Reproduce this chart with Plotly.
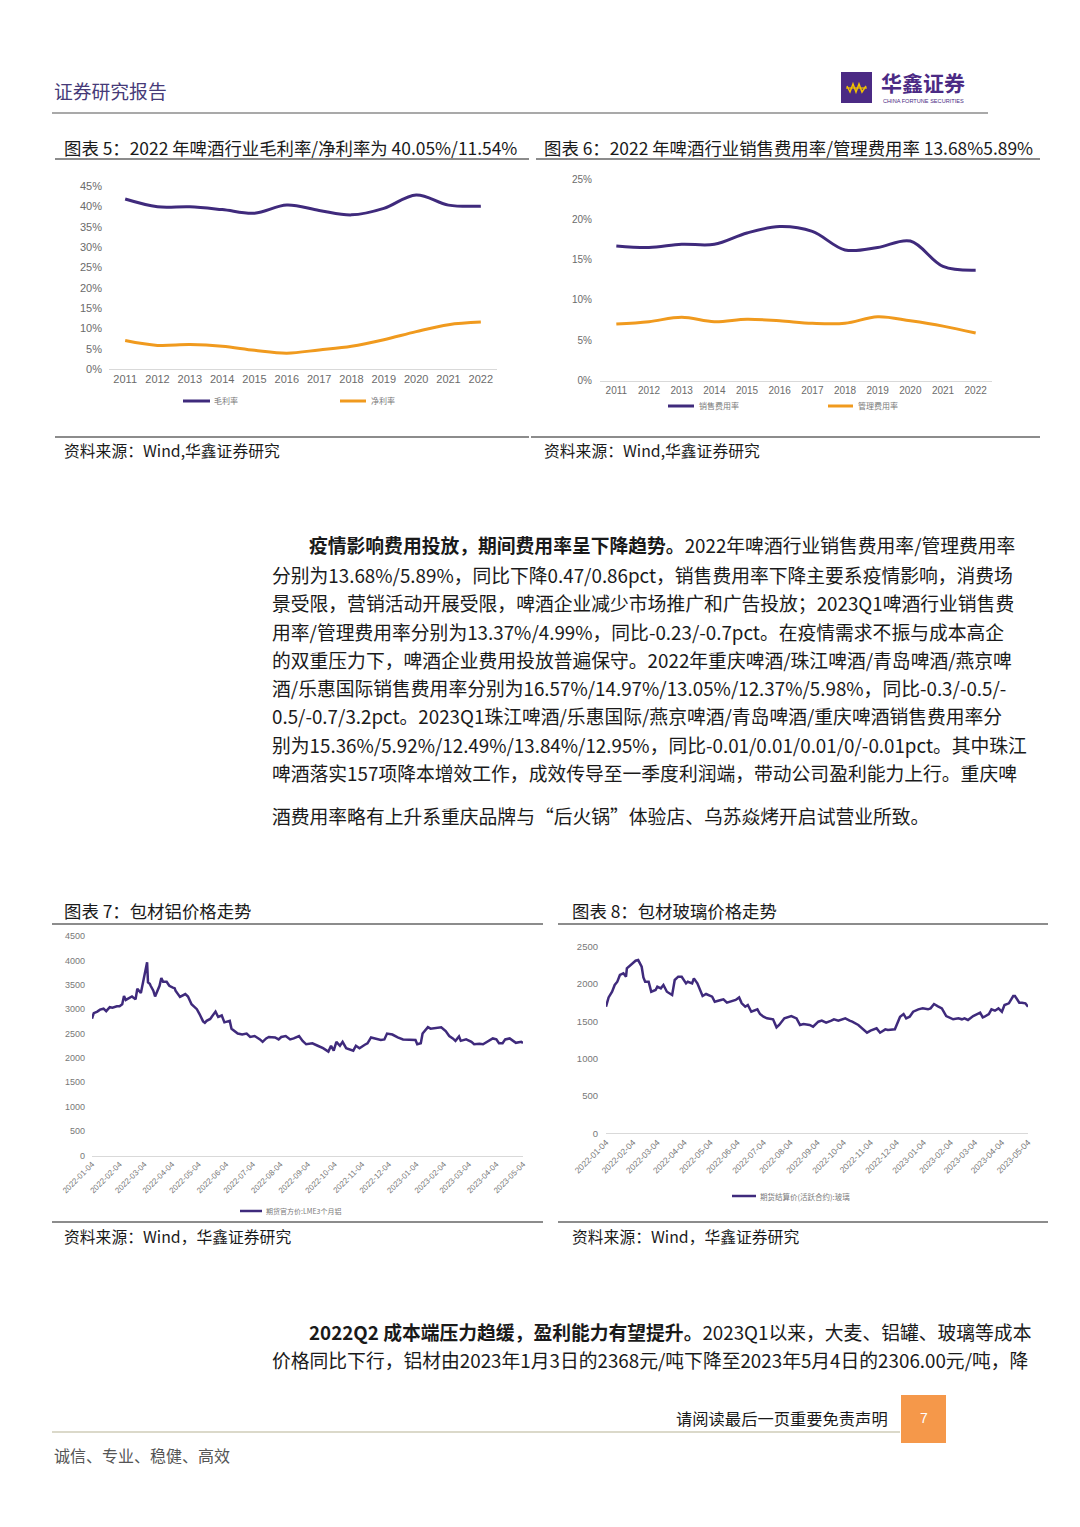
import plotly.graph_objects as go

W, H = 1080, 1527
OFF = 8  # the page body margin shifts the figure by 8px right and down

# ---------------- DATA ----------------
years = ['2011', '2012', '2013', '2014', '2015', '2016', '2017', '2018', '2019', '2020', '2021', '2022']
gross_margin = [41.8, 39.9, 39.9, 39.2, 38.3, 40.3, 39.0, 37.9, 39.5, 42.8, 40.3, 40.05]
net_margin = [7.0, 5.8, 6.0, 5.6, 4.6, 3.9, 4.7, 5.6, 7.2, 9.2, 10.9, 11.54]
selling_rate = [16.7, 16.5, 16.9, 16.9, 18.3, 19.1, 18.5, 16.2, 16.5, 17.3, 14.15, 13.68]
admin_rate = [7.0, 7.3, 7.85, 7.3, 7.6, 7.4, 7.1, 7.1, 7.9, 7.4, 6.75, 5.89]

alu_dates = ['2022-01-04', '2022-01-06', '2022-01-10', '2022-01-13', '2022-01-17', '2022-01-20', '2022-01-24',
             '2022-01-27', '2022-02-01', '2022-02-04', '2022-02-07', '2022-02-09', '2022-02-11', '2022-02-15',
             '2022-02-18', '2022-02-22', '2022-02-24', '2022-02-28', '2022-03-02', '2022-03-04', '2022-03-07',
             '2022-03-08', '2022-03-10', '2022-03-11', '2022-03-14', '2022-03-16', '2022-03-18', '2022-03-21',
             '2022-03-23', '2022-03-25', '2022-03-29', '2022-04-01', '2022-04-05', '2022-04-07', '2022-04-08',
             '2022-04-13', '2022-04-19', '2022-04-22', '2022-04-26', '2022-05-02', '2022-05-05', '2022-05-09',
             '2022-05-11', '2022-05-13', '2022-05-17', '2022-05-23', '2022-05-26', '2022-05-30', '2022-06-02',
             '2022-06-08', '2022-06-10', '2022-06-17', '2022-06-22', '2022-06-27', '2022-07-01', '2022-07-06',
             '2022-07-12', '2022-07-15', '2022-07-19', '2022-07-22', '2022-07-29', '2022-08-02', '2022-08-05',
             '2022-08-10', '2022-08-15', '2022-08-19', '2022-08-25', '2022-08-29', '2022-09-02', '2022-09-09',
             '2022-09-15', '2022-09-21', '2022-09-27', '2022-09-30', '2022-10-03', '2022-10-06', '2022-10-10',
             '2022-10-13', '2022-10-17', '2022-10-21', '2022-10-25', '2022-10-28', '2022-11-01', '2022-11-07',
             '2022-11-10', '2022-11-14', '2022-11-18', '2022-11-25', '2022-11-29', '2022-12-02', '2022-12-08',
             '2022-12-14', '2022-12-20', '2022-12-28', '2023-01-03', '2023-01-05', '2023-01-09', '2023-01-11',
             '2023-01-17', '2023-01-20', '2023-01-26', '2023-02-01', '2023-02-06', '2023-02-10', '2023-02-14',
             '2023-02-17', '2023-02-21', '2023-02-23', '2023-03-01', '2023-03-07', '2023-03-10', '2023-03-16',
             '2023-03-20', '2023-03-24', '2023-03-31', '2023-04-04', '2023-04-07', '2023-04-11', '2023-04-14',
             '2023-04-19', '2023-04-24', '2023-04-26', '2023-05-02', '2023-05-04']
alu_values = [2806, 2920, 2950, 2990, 3010, 2960, 3040,
              3030, 3060, 3060, 3100, 3270, 3190, 3230,
              3260, 3200, 3420, 3330, 3500, 3700, 3960,
              3550, 3520, 3480, 3380, 3260, 3340, 3480,
              3640, 3560, 3560, 3480, 3440, 3430, 3380,
              3250, 3310, 3260, 3100, 3000, 2900, 2750,
              2720, 2760, 2800, 2950, 2840, 2870, 2730,
              2760, 2600, 2500, 2480, 2500, 2430, 2450,
              2380, 2330, 2400, 2430, 2420, 2380, 2430,
              2450, 2380, 2400, 2450, 2350, 2280, 2300,
              2250, 2200, 2130, 2250, 2150, 2330, 2250,
              2330, 2200, 2180, 2150, 2250, 2200, 2270,
              2300, 2420, 2400, 2370, 2380, 2500, 2480,
              2420, 2380, 2380, 2368, 2280, 2300, 2500,
              2630, 2600, 2620, 2630, 2550, 2450, 2400,
              2350, 2440, 2350, 2380, 2330, 2280, 2290,
              2280, 2320, 2400, 2380, 2300, 2300, 2380,
              2400, 2340, 2310, 2330, 2306]

glass_dates = ['2022-01-04', '2022-01-07', '2022-01-11', '2022-01-14', '2022-01-17', '2022-01-20', '2022-01-24',
               '2022-01-27', '2022-01-28', '2022-02-03', '2022-02-07', '2022-02-10', '2022-02-14', '2022-02-16',
               '2022-02-18', '2022-02-22', '2022-02-25', '2022-03-02', '2022-03-04', '2022-03-08', '2022-03-11',
               '2022-03-15', '2022-03-21', '2022-03-24', '2022-03-28', '2022-04-01', '2022-04-06', '2022-04-08',
               '2022-04-13', '2022-04-15', '2022-04-19', '2022-04-25', '2022-04-29', '2022-05-06', '2022-05-09',
               '2022-05-16', '2022-05-19', '2022-05-23', '2022-05-27', '2022-06-02', '2022-06-06', '2022-06-09',
               '2022-06-13', '2022-06-16', '2022-06-20', '2022-06-27', '2022-06-30', '2022-07-04', '2022-07-08',
               '2022-07-15', '2022-07-19', '2022-07-22', '2022-07-28', '2022-08-05', '2022-08-11', '2022-08-15',
               '2022-08-19', '2022-08-26', '2022-08-30', '2022-09-05', '2022-09-09', '2022-09-14', '2022-09-20',
               '2022-09-23', '2022-09-28', '2022-10-06', '2022-10-11', '2022-10-14', '2022-10-21', '2022-10-25',
               '2022-10-31', '2022-11-04', '2022-11-11', '2022-11-15', '2022-11-21', '2022-11-24', '2022-11-28',
               '2022-12-02', '2022-12-08', '2022-12-12', '2022-12-15', '2022-12-19', '2022-12-23', '2022-12-29',
               '2023-01-03', '2023-01-09', '2023-01-12', '2023-01-16', '2023-01-20', '2023-01-25', '2023-01-30',
               '2023-02-02', '2023-02-07', '2023-02-13', '2023-02-17', '2023-02-20', '2023-02-24', '2023-03-02',
               '2023-03-06', '2023-03-10', '2023-03-13', '2023-03-15', '2023-03-20', '2023-03-23', '2023-03-27',
               '2023-03-31', '2023-04-04', '2023-04-07', '2023-04-12', '2023-04-17', '2023-04-19', '2023-04-24',
               '2023-04-27', '2023-05-01', '2023-05-04']
glass_values = [1696, 1821, 1897, 1987, 2031, 2121, 2143,
                2098, 2210, 2268, 2312, 2321, 2232, 2089,
                2031, 2031, 1897, 1920, 1964, 1942, 1987,
                1897, 1853, 2054, 2098, 2098, 2009, 2031,
                2009, 2076, 2009, 1839, 1866, 1830, 1763,
                1786, 1795, 1750, 1763, 1786, 1821, 1741,
                1696, 1719, 1629, 1661, 1598, 1562, 1540,
                1527, 1420, 1451, 1540, 1571, 1540, 1451,
                1464, 1451, 1428, 1495, 1509, 1482, 1509,
                1527, 1509, 1540, 1509, 1495, 1451, 1406,
                1348, 1375, 1406, 1348, 1393, 1384, 1393,
                1393, 1562, 1598, 1540, 1562, 1629, 1661,
                1674, 1661, 1674, 1732, 1705, 1674, 1571,
                1553, 1527, 1540, 1527, 1540, 1518, 1571,
                1598, 1616, 1553, 1562, 1598, 1661, 1643,
                1674, 1629, 1719, 1741, 1839, 1839, 1750,
                1750, 1741, 1696]

date_ticks = ['2022-01-04', '2022-02-04', '2022-03-04', '2022-04-04', '2022-05-04', '2022-06-04',
              '2022-07-04', '2022-08-04', '2022-09-04', '2022-10-04', '2022-11-04', '2022-12-04',
              '2023-01-04', '2023-02-04', '2023-03-04', '2023-04-04', '2023-05-04']

# ---------------- STYLE ----------------
PURPLE = '#3f2a7c'
ORANGE = '#f09a1e'
CJK = 'Noto Sans CJK SC'
LAT = 'Liberation Sans, Arial, sans-serif'
TICK_GRAY = '#6b6b6b'


def fx(x):
    return (x - OFF) / W


def fy(y):
    return 1 - (y - OFF) / H


fig = go.Figure()

# Chart 5
fig.add_trace(go.Scatter(x=years, y=gross_margin, mode='lines', line=dict(color=PURPLE, width=3, shape='spline', smoothing=1),
                         xaxis='x', yaxis='y', showlegend=False))
fig.add_trace(go.Scatter(x=years, y=net_margin, mode='lines', line=dict(color=ORANGE, width=3, shape='spline', smoothing=1),
                         xaxis='x', yaxis='y', showlegend=False))
# Chart 6
fig.add_trace(go.Scatter(x=years, y=selling_rate, mode='lines', line=dict(color=PURPLE, width=3, shape='spline', smoothing=1),
                         xaxis='x2', yaxis='y2', showlegend=False))
fig.add_trace(go.Scatter(x=years, y=admin_rate, mode='lines', line=dict(color=ORANGE, width=3, shape='spline', smoothing=1),
                         xaxis='x2', yaxis='y2', showlegend=False))
# Chart 7
fig.add_trace(go.Scatter(x=alu_dates, y=alu_values, mode='lines', line=dict(color=PURPLE, width=2.5),
                         xaxis='x3', yaxis='y3', showlegend=False))
# Chart 8
fig.add_trace(go.Scatter(x=glass_dates, y=glass_values, mode='lines', line=dict(color=PURPLE, width=2.5),
                         xaxis='x4', yaxis='y4', showlegend=False))

axis_common = dict(showgrid=False, zeroline=False, fixedrange=True, automargin=False)

layout = dict(
    width=W, height=H, autosize=False,
    margin=dict(l=0, r=0, t=0, b=0, pad=0, autoexpand=False),
    paper_bgcolor='white', plot_bgcolor='white',
    showlegend=False,
    # chart 5
    xaxis=dict(domain=[fx(109), fx(497)], anchor='y', type='category', range=[-0.5, 11.5],
               showline=True, linecolor='#d9d9d9', linewidth=1, ticks='',
               tickfont=dict(family=LAT, size=11, color=TICK_GRAY), **axis_common),
    yaxis=dict(domain=[fy(369), fy(186)], anchor='x', range=[0, 45], dtick=5, ticksuffix='%',
               showline=False, ticks='', ticklabelstandoff=6,
               tickfont=dict(family=LAT, size=11, color=TICK_GRAY), **axis_common),
    # chart 6
    xaxis2=dict(domain=[fx(600), fx(992)], anchor='y2', type='category', range=[-0.5, 11.5],
                showline=True, linecolor='#d9d9d9', linewidth=1, ticks='',
                tickfont=dict(family=LAT, size=10, color=TICK_GRAY), **axis_common),
    yaxis2=dict(domain=[fy(380.5), fy(179)], anchor='x2', range=[0, 25], dtick=5, ticksuffix='%',
                showline=False, ticks='', ticklabelstandoff=7,
                tickfont=dict(family=LAT, size=10, color=TICK_GRAY), **axis_common),
    # chart 7
    xaxis3=dict(domain=[fx(92), fx(523)], anchor='y3', type='date', range=['2022-01-04', '2023-05-04'],
                tickvals=date_ticks, ticktext=date_ticks, tickangle=-45,
                showline=True, linecolor='#d9d9d9', linewidth=1, ticks='',
                tickfont=dict(family=LAT, size=8, color='#777777'), **axis_common),
    yaxis3=dict(domain=[fy(1155.5), fy(936)], anchor='x3', range=[0, 4500], dtick=500,
                showline=False, ticks='', ticklabelstandoff=6,
                tickfont=dict(family=LAT, size=9, color='#777777'), **axis_common),
    # chart 8
    xaxis4=dict(domain=[fx(606), fx(1028)], anchor='y4', type='date', range=['2022-01-04', '2023-05-04'],
                tickvals=date_ticks, ticktext=date_ticks, tickangle=-45,
                showline=True, linecolor='#d9d9d9', linewidth=1, ticks='',
                tickfont=dict(family=LAT, size=8.5, color='#777777'), **axis_common),
    yaxis4=dict(domain=[fy(1133.3), fy(946.7)], anchor='x4', range=[0, 2500], dtick=500,
                showline=False, ticks='', ticklabelstandoff=7,
                tickfont=dict(family=LAT, size=9.5, color='#777777'), **axis_common),
)
fig.update_layout(**layout)

shapes = []
annotations = []


def hline(x0, x1, y, color, width):
    shapes.append(dict(type='line', xref='paper', yref='paper', x0=fx(x0), x1=fx(x1), y0=fy(y), y1=fy(y),
                       line=dict(color=color, width=width)))


def text(x, y, s, size, color='#1a1a1a', family=CJK, anchor='left'):
    annotations.append(dict(xref='paper', yref='paper', x=fx(x), y=fy(y), text=s, showarrow=False,
                            xanchor=anchor, yanchor='middle', font=dict(family=family, size=size, color=color)))


# Header
text(52, 90, '证券研究报告', 18.8, color='#463a78')
shapes.append(dict(type='rect', xref='paper', yref='paper', x0=fx(841), x1=fx(872), y0=fy(103), y1=fy(72),
                   fillcolor='#4b2a84', line=dict(width=0)))
shapes.append(dict(type='path', xref='paper', yref='paper',
                   path='M {} {} L {} {} L {} {} L {} {} L {} {} L {} {} L {} {}'.format(
                       fx(847), fy(86), fx(850), fy(92), fx(853), fy(84), fx(856), fy(92), fx(859), fy(84),
                       fx(862), fy(92), fx(866), fy(86)),
                   line=dict(color='#f2c200', width=1.5)))
hline(846, 867, 88, '#f2c200', 1.2)
text(879, 82.5, '<b>华鑫证券</b>', 21, color='#4b2a84')
text(881, 100.5, 'CHINA FORTUNE SECURITIES', 5.6, color='#4b2a84', family=LAT)
hline(52, 988, 113, '#8c8c8c', 1.5)

# Chart 5 / 6 titles and frames
TITLE = 17.4
SRC = 15.8
text(62, 147, '图表 5：2022 年啤酒行业毛利率/净利率为 40.05%/11.54%', TITLE)
text(542, 147, '图表 6：2022 年啤酒行业销售费用率/管理费用率 13.68%5.89%', TITLE)
hline(55, 529, 159, '#8c8c8c', 2)
hline(536, 1040, 159, '#8c8c8c', 2)
hline(55, 529, 437, '#8c8c8c', 2)
hline(531, 1040, 437, '#8c8c8c', 2)
text(62, 450, '资料来源：Wind,华鑫证券研究', SRC)
text(542, 450, '资料来源：Wind,华鑫证券研究', SRC)

# Legends chart 5 / 6
hline(183, 210, 401, PURPLE, 3)
text(212, 401, '毛利率', 8, color='#7a7a7a')
hline(340, 366, 401, ORANGE, 3)
text(369, 401, '净利率', 8, color='#7a7a7a')
hline(668, 694, 406, PURPLE, 3)
text(697, 406, '销售费用率', 8, color='#7a7a7a')
hline(828, 853, 406, ORANGE, 3)
text(856, 406, '管理费用率', 8, color='#7a7a7a')

# Paragraph 1
BODY = 18.8
para1 = [
    (307, 545, '<b>疫情影响费用投放，期间费用率呈下降趋势。</b>2022年啤酒行业销售费用率/管理费用率'),
    (270, 574, '分别为13.68%/5.89%，同比下降0.47/0.86pct，销售费用率下降主要系疫情影响，消费场'),
    (270, 602, '景受限，营销活动开展受限，啤酒企业减少市场推广和广告投放；2023Q1啤酒行业销售费'),
    (270, 631, '用率/管理费用率分别为13.37%/4.99%，同比-0.23/-0.7pct。在疫情需求不振与成本高企'),
    (270, 659, '的双重压力下，啤酒企业费用投放普遍保守。2022年重庆啤酒/珠江啤酒/青岛啤酒/燕京啤'),
    (270, 687, '酒/乐惠国际销售费用率分别为16.57%/14.97%/13.05%/12.37%/5.98%，同比-0.3/-0.5/-'),
    (270, 715, '0.5/-0.7/3.2pct。2023Q1珠江啤酒/乐惠国际/燕京啤酒/青岛啤酒/重庆啤酒销售费用率分'),
    (270, 744, '别为15.36%/5.92%/12.49%/13.84%/12.95%，同比-0.01/0.01/0.01/0/-0.01pct。其中珠江'),
    (270, 772, '啤酒落实157项降本增效工作，成效传导至一季度利润端，带动公司盈利能力上行。重庆啤'),
    (270, 815, '酒费用率略有上升系重庆品牌与“后火锅”体验店、乌苏焱烤开启试营业所致。'),
]
for x, y, s in para1:
    text(x, y, s, BODY)

# Chart 7 / 8 titles and frames
text(62, 910, '图表 7：包材铝价格走势', TITLE)
text(570, 910, '图表 8：包材玻璃价格走势', TITLE)
hline(52, 543, 924, '#8c8c8c', 2)
hline(558, 1048, 924, '#8c8c8c', 2)
hline(52, 543, 1222, '#8c8c8c', 2)
hline(558, 1048, 1222, '#8c8c8c', 2)
text(62, 1236, '资料来源：Wind，华鑫证券研究', SRC)
text(570, 1236, '资料来源：Wind，华鑫证券研究', SRC)

hline(240, 262, 1211, PURPLE, 2.5)
text(264, 1211, '期货官方价:LME3个月铝', 7, color='#7a7a7a')
hline(732, 756, 1196, PURPLE, 2.5)
text(758, 1196, '期货结算价(活跃合约):玻璃', 7.5, color='#7a7a7a')

# Paragraph 2
text(307, 1331, '<b>2022Q2 成本端压力趋缓，盈利能力有望提升。</b>2023Q1以来，大麦、铝罐、玻璃等成本', BODY)
text(270, 1359, '价格同比下行，铝材由2023年1月3日的2368元/吨下降至2023年5月4日的2306.00元/吨，降', BODY)

# Footer
text(890, 1418, '请阅读最后一页重要免责声明', 16.3, color='#1a1a1a', anchor='right')
shapes.append(dict(type='rect', xref='paper', yref='paper', x0=fx(901), x1=fx(946), y0=fy(1443), y1=fy(1395),
                   fillcolor='#f5984a', line=dict(width=0)))
text(923.5, 1418, '7', 14, color='white', family=LAT, anchor='center')
hline(52, 900, 1432, '#cfccb8', 1.5)
text(52, 1455, '诚信、专业、稳健、高效', 16, color='#555555')

fig.update_layout(shapes=shapes, annotations=annotations)
fig.write_html('out.html')
